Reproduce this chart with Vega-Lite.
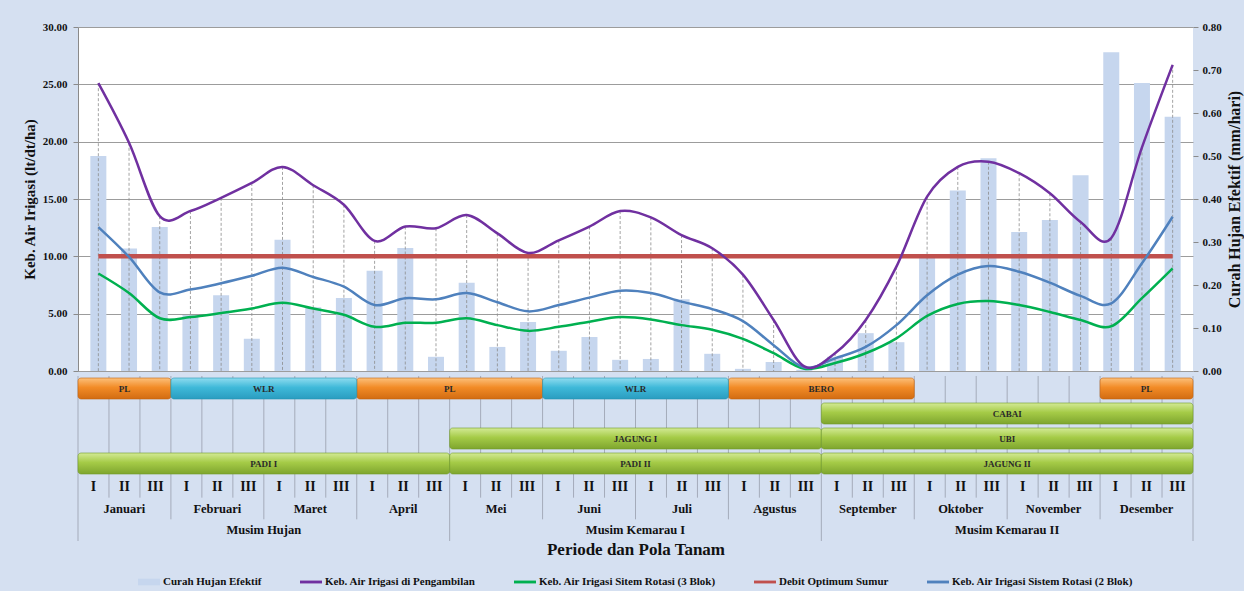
{
  "$schema": "https://vega.github.io/schema/vega-lite/v6.json",
  "background": "#d5e0f1",
  "padding": {"left": 22, "top": 21, "right": 2, "bottom": 4},
  "spacing": -4,
  "config": {
    "font": "Liberation Serif",
    "view": {"stroke": null},
    "axis": {"labelFont": "Liberation Serif", "labelFontWeight": "bold", "titleFont": "Liberation Serif", "titleFontWeight": "bold", "labelColor": "#111111", "titleColor": "#111111"},
    "legend": {"layout": {"bottom": {"anchor": "middle"}}}
  },
  "datasets": {
    "dekad": [
      {"d": 1, "lab": "I", "rain": 0.5, "peng": 25.1, "rot3": 8.5, "rot2": 12.55, "debit": 10},
      {"d": 2, "lab": "II", "rain": 0.285, "peng": 19.9, "rot3": 6.8, "rot2": 9.95, "debit": 10},
      {"d": 3, "lab": "III", "rain": 0.335, "peng": 13.5, "rot3": 4.6, "rot2": 6.85, "debit": 10},
      {"d": 4, "lab": "I", "rain": 0.13, "peng": 13.95, "rot3": 4.7, "rot2": 7.1, "debit": 10},
      {"d": 5, "lab": "II", "rain": 0.176, "peng": 15.1, "rot3": 5.05, "rot2": 7.65, "debit": 10},
      {"d": 6, "lab": "III", "rain": 0.075, "peng": 16.4, "rot3": 5.45, "rot2": 8.3, "debit": 10},
      {"d": 7, "lab": "I", "rain": 0.305, "peng": 17.8, "rot3": 5.95, "rot2": 9.0, "debit": 10},
      {"d": 8, "lab": "II", "rain": 0.148, "peng": 16.2, "rot3": 5.45, "rot2": 8.2, "debit": 10},
      {"d": 9, "lab": "III", "rain": 0.17, "peng": 14.5, "rot3": 4.9, "rot2": 7.35, "debit": 10},
      {"d": 10, "lab": "I", "rain": 0.233, "peng": 11.35, "rot3": 3.85, "rot2": 5.75, "debit": 10},
      {"d": 11, "lab": "II", "rain": 0.286, "peng": 12.6, "rot3": 4.2, "rot2": 6.35, "debit": 10},
      {"d": 12, "lab": "III", "rain": 0.033, "peng": 12.45, "rot3": 4.2, "rot2": 6.25, "debit": 10},
      {"d": 13, "lab": "I", "rain": 0.205, "peng": 13.6, "rot3": 4.6, "rot2": 6.8, "debit": 10},
      {"d": 14, "lab": "II", "rain": 0.056, "peng": 12.0, "rot3": 4.0, "rot2": 6.0, "debit": 10},
      {"d": 15, "lab": "III", "rain": 0.114, "peng": 10.3, "rot3": 3.5, "rot2": 5.2, "debit": 10},
      {"d": 16, "lab": "I", "rain": 0.047, "peng": 11.4, "rot3": 3.85, "rot2": 5.75, "debit": 10},
      {"d": 17, "lab": "II", "rain": 0.079, "peng": 12.6, "rot3": 4.3, "rot2": 6.4, "debit": 10},
      {"d": 18, "lab": "III", "rain": 0.026, "peng": 13.95, "rot3": 4.7, "rot2": 7.0, "debit": 10},
      {"d": 19, "lab": "I", "rain": 0.028, "peng": 13.4, "rot3": 4.5, "rot2": 6.8, "debit": 10},
      {"d": 20, "lab": "II", "rain": 0.167, "peng": 11.85, "rot3": 4.0, "rot2": 6.05, "debit": 10},
      {"d": 21, "lab": "III", "rain": 0.04, "peng": 10.7, "rot3": 3.6, "rot2": 5.4, "debit": 10},
      {"d": 22, "lab": "I", "rain": 0.005, "peng": 8.4, "rot3": 2.8, "rot2": 4.35, "debit": 10},
      {"d": 23, "lab": "II", "rain": 0.021, "peng": 4.45, "rot3": 1.55, "rot2": 2.25, "debit": 10},
      {"d": 24, "lab": "III", "rain": 0.003, "peng": 0.4, "rot3": 0.2, "rot2": 0.3, "debit": 10},
      {"d": 25, "lab": "I", "rain": 0.033, "peng": 1.55, "rot3": 0.7, "rot2": 1.1, "debit": 10},
      {"d": 26, "lab": "II", "rain": 0.088, "peng": 4.45, "rot3": 1.55, "rot2": 2.1, "debit": 10},
      {"d": 27, "lab": "III", "rain": 0.067, "peng": 9.1, "rot3": 2.85, "rot2": 4.0, "debit": 10},
      {"d": 28, "lab": "I", "rain": 0.265, "peng": 15.2, "rot3": 4.8, "rot2": 6.6, "debit": 10},
      {"d": 29, "lab": "II", "rain": 0.42, "peng": 17.8, "rot3": 5.85, "rot2": 8.4, "debit": 10},
      {"d": 30, "lab": "III", "rain": 0.495, "peng": 18.25, "rot3": 6.1, "rot2": 9.15, "debit": 10},
      {"d": 31, "lab": "I", "rain": 0.323, "peng": 17.25, "rot3": 5.75, "rot2": 8.65, "debit": 10},
      {"d": 32, "lab": "II", "rain": 0.351, "peng": 15.5, "rot3": 5.15, "rot2": 7.7, "debit": 10},
      {"d": 33, "lab": "III", "rain": 0.455, "peng": 13.0, "rot3": 4.45, "rot2": 6.55, "debit": 10},
      {"d": 34, "lab": "I", "rain": 0.741, "peng": 11.6, "rot3": 3.9, "rot2": 5.9, "debit": 10},
      {"d": 35, "lab": "II", "rain": 0.67, "peng": 19.5, "rot3": 6.35, "rot2": 9.4, "debit": 10},
      {"d": 36, "lab": "III", "rain": 0.591, "peng": 26.7, "rot3": 8.95, "rot2": 13.45, "debit": 10}
    ],
    "boxes": [
      {"row": 1, "from": 1, "to": 3, "label": "PL", "kind": "o"},
      {"row": 1, "from": 4, "to": 9, "label": "WLR", "kind": "c"},
      {"row": 1, "from": 10, "to": 15, "label": "PL", "kind": "o"},
      {"row": 1, "from": 16, "to": 21, "label": "WLR", "kind": "c"},
      {"row": 1, "from": 22, "to": 27, "label": "BERO", "kind": "o"},
      {"row": 1, "from": 34, "to": 36, "label": "PL", "kind": "o"},
      {"row": 2, "from": 25, "to": 36, "label": "CABAI", "kind": "g"},
      {"row": 3, "from": 13, "to": 24, "label": "JAGUNG I", "kind": "g"},
      {"row": 3, "from": 25, "to": 36, "label": "UBI", "kind": "g"},
      {"row": 4, "from": 1, "to": 12, "label": "PADI I", "kind": "g"},
      {"row": 4, "from": 13, "to": 24, "label": "PADI II", "kind": "g"},
      {"row": 4, "from": 25, "to": 36, "label": "JAGUNG II", "kind": "g"}
    ],
    "periods": [
      {"row": 6, "from": 1, "to": 3, "label": "Januari"},
      {"row": 6, "from": 4, "to": 6, "label": "Februari"},
      {"row": 6, "from": 7, "to": 9, "label": "Maret"},
      {"row": 6, "from": 10, "to": 12, "label": "April"},
      {"row": 6, "from": 13, "to": 15, "label": "Mei"},
      {"row": 6, "from": 16, "to": 18, "label": "Juni"},
      {"row": 6, "from": 19, "to": 21, "label": "Juli"},
      {"row": 6, "from": 22, "to": 24, "label": "Agustus"},
      {"row": 6, "from": 25, "to": 27, "label": "September"},
      {"row": 6, "from": 28, "to": 30, "label": "Oktober"},
      {"row": 6, "from": 31, "to": 33, "label": "November"},
      {"row": 6, "from": 34, "to": 36, "label": "Desember"},
      {"row": 7, "from": 1, "to": 12, "label": "Musim Hujan"},
      {"row": 7, "from": 13, "to": 24, "label": "Musim Kemarau I"},
      {"row": 7, "from": 25, "to": 36, "label": "Musim Kemarau II"}
    ],
    "bounds": [
      {"b": 0, "span": 7}, {"b": 1, "span": 5}, {"b": 2, "span": 5}, {"b": 3, "span": 6},
      {"b": 4, "span": 5}, {"b": 5, "span": 5}, {"b": 6, "span": 6}, {"b": 7, "span": 5},
      {"b": 8, "span": 5}, {"b": 9, "span": 6}, {"b": 10, "span": 5}, {"b": 11, "span": 5},
      {"b": 12, "span": 7}, {"b": 13, "span": 5}, {"b": 14, "span": 5}, {"b": 15, "span": 6},
      {"b": 16, "span": 5}, {"b": 17, "span": 5}, {"b": 18, "span": 6}, {"b": 19, "span": 5},
      {"b": 20, "span": 5}, {"b": 21, "span": 6}, {"b": 22, "span": 5}, {"b": 23, "span": 5},
      {"b": 24, "span": 7}, {"b": 25, "span": 5}, {"b": 26, "span": 5}, {"b": 27, "span": 6},
      {"b": 28, "span": 5}, {"b": 29, "span": 5}, {"b": 30, "span": 6}, {"b": 31, "span": 5},
      {"b": 32, "span": 5}, {"b": 33, "span": 6}, {"b": 34, "span": 5}, {"b": 35, "span": 5},
      {"b": 36, "span": 7}
    ]
  },
  "vconcat": [
    {
      "width": 1115,
      "height": 344,
      "view": {"fill": "white", "stroke": null},
      "data": {"name": "dekad"},
      "layer": [
        {
          "mark": {"type": "bar", "size": 16},
          "encoding": {
            "x": {"field": "d", "type": "quantitative", "scale": {"domain": [0.5, 36.5], "nice": false, "zero": false}, "axis": null},
            "y": {"field": "rain", "type": "quantitative", "scale": {"domain": [0, 0.8], "nice": false},
              "axis": {"orient": "right", "title": "Curah Hujan Efektif (mm/hari)", "titleAngle": 270, "titleBaseline": "top", "titleFontSize": 16, "titlePadding": 5, "format": ".2f", "values": [0, 0.1, 0.2, 0.3, 0.4, 0.5, 0.6, 0.7, 0.8], "grid": false, "domain": false, "tickColor": "#8a8a8a", "tickSize": 5, "labelPadding": 4, "labelFontSize": 11}},
            "color": {"datum": "Curah Hujan Efektif", "type": "nominal",
              "scale": {"domain": ["Curah Hujan Efektif", "Keb. Air Irigasi di Pengambilan", "Keb. Air Irigasi Sitem Rotasi (3 Blok)", "Debit Optimum Sumur", "Keb. Air Irigasi Sistem Rotasi (2 Blok)"], "range": ["#c6d6ee", "#7030a0", "#00b050", "#c0504d", "#4f81bd"]},
              "legend": {"orient": "bottom", "direction": "horizontal", "title": null, "columns": 5, "symbolType": "M-1,-0.13H1V0.13H-1Z", "symbolSize": 484, "symbolStrokeWidth": 0, "symbolOpacity": 1, "labelFontSize": 11, "labelFont": "Liberation Serif", "labelFontWeight": "bold", "labelColor": "#111111", "labelLimit": 400, "columnPadding": 38, "labelOffset": 3, "offset": 14,
                "encode": {"symbols": {"update": {"shape": {"signal": "datum.value === 'Curah Hujan Efektif' ? 'M-1,-0.3H1V0.3H-1Z' : 'M-1,-0.13H1V0.13H-1Z'"}}}}}}
          }
        },
        {
          "transform": [{"fold": ["peng", "rot3", "debit", "rot2"], "as": ["key", "value"]}],
          "encoding": {
            "x": {"field": "d", "type": "quantitative", "scale": {"domain": [0.5, 36.5], "nice": false, "zero": false}, "axis": null},
            "y": {"field": "value", "type": "quantitative", "scale": {"domain": [0, 30], "nice": false},
              "axis": {"orient": "left", "title": "Keb. Air Irigasi (lt/dt/ha)", "titleFontSize": 15, "titlePadding": 5, "format": ".2f", "values": [0, 5, 10, 15, 20, 25, 30], "grid": true, "gridColor": "#9c9c9c", "gridWidth": 1, "domain": true, "domainColor": "#8a8a8a", "tickColor": "#8a8a8a", "tickSize": 5, "labelPadding": 6, "labelFontSize": 11}}
          },
          "layer": [
            {
              "transform": [{"filter": "datum.key === 'peng'"}],
              "mark": {"type": "rule", "color": "#8c8c8c", "strokeWidth": 0.8, "strokeDash": [3, 2]},
              "encoding": {"y2": {"datum": 0}}
            },
            {
              "transform": [{"filter": "datum.key === 'debit'"}],
              "mark": {"type": "line", "strokeWidth": 4.5},
              "encoding": {"color": {"datum": "Debit Optimum Sumur", "type": "nominal"}}
            },
            {
              "transform": [{"filter": "datum.key === 'rot3'"}],
              "mark": {"type": "line", "strokeWidth": 2.5, "interpolate": "cardinal"},
              "encoding": {"color": {"datum": "Keb. Air Irigasi Sitem Rotasi (3 Blok)", "type": "nominal"}}
            },
            {
              "transform": [{"filter": "datum.key === 'rot2'"}],
              "mark": {"type": "line", "strokeWidth": 2.5, "interpolate": "cardinal"},
              "encoding": {"color": {"datum": "Keb. Air Irigasi Sistem Rotasi (2 Blok)", "type": "nominal"}}
            },
            {
              "transform": [{"filter": "datum.key === 'peng'"}],
              "mark": {"type": "line", "strokeWidth": 2.5, "interpolate": "cardinal"},
              "encoding": {"color": {"datum": "Keb. Air Irigasi di Pengambilan", "type": "nominal"}}
            }
          ]
        }
      ],
      "resolve": {"scale": {"y": "independent"}, "axis": {"y": "independent"}}
    },
    {
      "width": 1115,
      "height": 165,
      "view": {"stroke": null},
      "layer": [
        {
          "data": {"name": "bounds"},
          "transform": [{"calculate": "datum.b + 0.5", "as": "bx"}],
          "mark": {"type": "rule", "color": "#a4abba", "strokeWidth": 1},
          "encoding": {
            "x": {"field": "bx", "type": "quantitative", "scale": {"domain": [0.5, 36.5], "nice": false, "zero": false},
              "axis": {"title": "Periode dan Pola Tanam", "labels": false, "ticks": false, "domain": false, "grid": false, "titleFontSize": 17, "titlePadding": 0}},
            "y": {"field": "span", "type": "quantitative", "scale": {"domain": [0, 4, 7], "range": [0, 100, 165]}, "axis": null},
            "y2": {"datum": 0}
          }
        },
        {
          "data": {"name": "boxes"},
          "transform": [
            {"filter": "datum.kind === 'o'"},
            {"calculate": "datum.from - 0.5", "as": "x0"}, {"calculate": "datum.to + 0.5", "as": "x1"},
            {"calculate": "datum.row - 0.92", "as": "y0"}, {"calculate": "datum.row - 0.08", "as": "y1"}
          ],
          "mark": {"type": "bar", "cornerRadius": 3, "stroke": "#c4620c", "strokeWidth": 0.6,
            "color": {"gradient": "linear", "x1": 0, "y1": 0, "x2": 0, "y2": 1, "stops": [{"offset": 0, "color": "#fcc07a"}, {"offset": 0.45, "color": "#f28b26"}, {"offset": 1, "color": "#d26c12"}]}},
          "encoding": {
            "x": {"field": "x0", "type": "quantitative", "axis": {"title": "Periode dan Pola Tanam", "labels": false, "ticks": false, "domain": false, "grid": false, "titleFontSize": 17, "titlePadding": 0}}, "x2": {"field": "x1"},
            "y": {"field": "y0", "type": "quantitative", "axis": null}, "y2": {"field": "y1"}
          }
        },
        {
          "data": {"name": "boxes"},
          "transform": [
            {"filter": "datum.kind === 'c'"},
            {"calculate": "datum.from - 0.5", "as": "x0"}, {"calculate": "datum.to + 0.5", "as": "x1"},
            {"calculate": "datum.row - 0.92", "as": "y0"}, {"calculate": "datum.row - 0.08", "as": "y1"}
          ],
          "mark": {"type": "bar", "cornerRadius": 3, "stroke": "#2393b3", "strokeWidth": 0.6,
            "color": {"gradient": "linear", "x1": 0, "y1": 0, "x2": 0, "y2": 1, "stops": [{"offset": 0, "color": "#8fdcef"}, {"offset": 0.45, "color": "#3fb9d9"}, {"offset": 1, "color": "#2a9cc0"}]}},
          "encoding": {
            "x": {"field": "x0", "type": "quantitative", "axis": {"title": "Periode dan Pola Tanam", "labels": false, "ticks": false, "domain": false, "grid": false, "titleFontSize": 17, "titlePadding": 0}}, "x2": {"field": "x1"},
            "y": {"field": "y0", "type": "quantitative", "axis": null}, "y2": {"field": "y1"}
          }
        },
        {
          "data": {"name": "boxes"},
          "transform": [
            {"filter": "datum.kind === 'g'"},
            {"calculate": "datum.from - 0.5", "as": "x0"}, {"calculate": "datum.to + 0.5", "as": "x1"},
            {"calculate": "datum.row - 0.92", "as": "y0"}, {"calculate": "datum.row - 0.08", "as": "y1"}
          ],
          "mark": {"type": "bar", "cornerRadius": 3, "stroke": "#6f9a26", "strokeWidth": 0.6,
            "color": {"gradient": "linear", "x1": 0, "y1": 0, "x2": 0, "y2": 1, "stops": [{"offset": 0, "color": "#d3ea95"}, {"offset": 0.45, "color": "#a5cb47"}, {"offset": 1, "color": "#7ea52e"}]}},
          "encoding": {
            "x": {"field": "x0", "type": "quantitative", "axis": {"title": "Periode dan Pola Tanam", "labels": false, "ticks": false, "domain": false, "grid": false, "titleFontSize": 17, "titlePadding": 0}}, "x2": {"field": "x1"},
            "y": {"field": "y0", "type": "quantitative", "axis": null}, "y2": {"field": "y1"}
          }
        },
        {
          "data": {"name": "boxes"},
          "transform": [{"calculate": "(datum.from + datum.to) / 2", "as": "xm"}, {"calculate": "datum.row - 0.5", "as": "ym"}],
          "mark": {"type": "text", "font": "Liberation Serif", "fontWeight": "bold", "fontSize": 9, "color": "#2a2a2a"},
          "encoding": {
            "x": {"field": "xm", "type": "quantitative", "axis": {"title": "Periode dan Pola Tanam", "labels": false, "ticks": false, "domain": false, "grid": false, "titleFontSize": 17, "titlePadding": 0}},
            "y": {"field": "ym", "type": "quantitative", "axis": null},
            "text": {"field": "label"}
          }
        },
        {
          "data": {"name": "dekad"},
          "mark": {"type": "text", "font": "Liberation Serif", "fontWeight": "bold", "fontSize": 14, "color": "#111111"},
          "encoding": {
            "x": {"field": "d", "type": "quantitative", "axis": {"title": "Periode dan Pola Tanam", "labels": false, "ticks": false, "domain": false, "grid": false, "titleFontSize": 17, "titlePadding": 0}},
            "y": {"datum": 4.5, "type": "quantitative", "axis": null},
            "text": {"field": "lab"}
          }
        },
        {
          "data": {"name": "periods"},
          "transform": [{"calculate": "(datum.from + datum.to) / 2", "as": "xm"}, {"calculate": "datum.row - 0.5", "as": "ym"}],
          "mark": {"type": "text", "font": "Liberation Serif", "fontWeight": "bold", "fontSize": 12.5, "color": "#111111"},
          "encoding": {
            "x": {"field": "xm", "type": "quantitative", "axis": {"title": "Periode dan Pola Tanam", "labels": false, "ticks": false, "domain": false, "grid": false, "titleFontSize": 17, "titlePadding": 0}},
            "y": {"field": "ym", "type": "quantitative", "axis": null},
            "text": {"field": "label"}
          }
        }
      ]
    }
  ]
}
